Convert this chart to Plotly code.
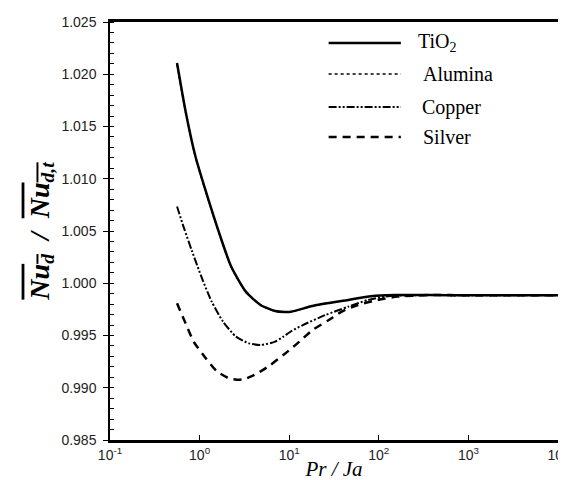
import plotly.graph_objects as go

# Pr/Ja values (x) and Nu ratio values (y)
tio2_x = [0.56, 0.698, 0.898, 1.154, 1.681, 2.25, 3.28, 4.79, 6.97, 9.0, 10.5, 19.6, 45.7, 82, 150, 370, 1000, 10000]
tio2_y = [1.02107, 1.01644, 1.01215, 1.00900, 1.00462, 1.00160, 0.99920, 0.99792, 0.99734, 0.99725, 0.99728, 0.99789, 0.99840, 0.99876, 0.99888, 0.99887, 0.99885, 0.99885]

alumina_x = [0.56, 0.698, 0.898, 1.154, 1.681, 2.25, 3.28, 4.79, 6.97, 9.0, 10.5, 19.6, 45.7, 82, 150, 370, 1000, 10000]
alumina_y = [1.02095, 1.01636, 1.01208, 1.00894, 1.00457, 1.00156, 0.99917, 0.99790, 0.99732, 0.99724, 0.99727, 0.99788, 0.99840, 0.99876, 0.99888, 0.99887, 0.99885, 0.99885]

copper_x = [0.56, 0.670, 0.826, 1.062, 1.365, 1.825, 2.55, 3.56, 4.79, 6.97, 8.6, 10.6, 14.2, 25.4, 45.7, 75.5, 135, 370, 1000, 10000]
copper_y = [1.00734, 1.00527, 1.00303, 1.00048, 0.99824, 0.99633, 0.99489, 0.99425, 0.99409, 0.99441, 0.99489, 0.99543, 0.99600, 0.99696, 0.99776, 0.99840, 0.99878, 0.99887, 0.99885, 0.99885]

silver_x = [0.56, 0.698, 0.860, 1.154, 1.547, 2.07, 2.6, 3.15, 4.40, 6.15, 8.59, 10.6, 13.0, 18.2, 27.7, 38.6, 58.7, 97, 160, 370, 1000, 10000]
silver_y = [0.99808, 0.99616, 0.99441, 0.99290, 0.99160, 0.99095, 0.99077, 0.99082, 0.99137, 0.99217, 0.99313, 0.99377, 0.99441, 0.99552, 0.99648, 0.99729, 0.99792, 0.99840, 0.99872, 0.99887, 0.99885, 0.99885]

series_names = ["TiO<sub>2</sub>", "Alumina", "Copper", "Silver"]

x_tickvals = [0.1, 1, 10, 100, 1000, 10000]
x_ticktext = ["10<sup>-1</sup>", "10<sup>0</sup>", "10<sup>1</sup>", "10<sup>2</sup>", "10<sup>3</sup>", "10<sup>4</sup>"]

SERIF = "Liberation Serif"
SANS = "Liberation Sans"

styles = [
    dict(color="black", width=2.5, dash="solid"),
    dict(color="black", width=1.5, dash="dot"),
    dict(color="black", width=2.0, dash="8px,2px,2px,2px,2px,2px"),
    dict(color="black", width=2.5, dash="8px,6px"),
]

fig = go.Figure()
for (xs, ys), name, st in zip(
    [(tio2_x, tio2_y), (alumina_x, alumina_y), (copper_x, copper_y), (silver_x, silver_y)],
    series_names, styles):
    fig.add_trace(go.Scatter(x=xs, y=ys, mode="lines", name=name,
                             line=dict(shape="spline", smoothing=0.6, **st),
                             showlegend=False))

# Manual legend (line samples + labels) in paper coordinates
W, H = 566, 480
L, R, T, B = 102, 5, 14, 48
pw, ph = W - L - R, H - T - B
def px2paper(x, y):
    return (x - L) / pw, (H - B - y) / ph

legend_rows_y = [35, 66, 99, 129]
text_x = [416, 421, 420, 421]
for i, (yy, name, st) in enumerate(zip(legend_rows_y, series_names, styles)):
    x0, y0 = px2paper(326, yy)
    x1, _ = px2paper(400, yy)
    fig.add_shape(type="line", xref="paper", yref="paper", x0=x0, x1=x1, y0=y0, y1=y0,
                  line=dict(color=st["color"], width=st["width"], dash=st["dash"]))
    tx, ty = px2paper(text_x[i], yy)
    fig.add_annotation(xref="paper", yref="paper", x=tx, y=ty, text=name, showarrow=False,
                       xanchor="left", yanchor="middle",
                       font=dict(family=SERIF, size=20, color="black"))

fig.update_layout(
    width=W, height=H,
    margin=dict(l=L, r=R, t=T, b=B),
    paper_bgcolor="white", plot_bgcolor="white",
    font=dict(family=SANS),
    xaxis=dict(type="log", range=[-1, 4], tickvals=x_tickvals, ticktext=x_ticktext,
               ticklabeloverflow="allow",
               showgrid=False, zeroline=False,
               showline=True, linecolor="black", linewidth=2.5, mirror=True,
               ticks="inside", ticklen=5, tickcolor="black",
               tickfont=dict(family=SANS, size=14, color="#222"),
               title=dict(text="<i>Pr / Ja</i>", standoff=0,
                          font=dict(family=SERIF, size=21, color="black"))),
    yaxis=dict(range=[0.985, 1.025], dtick=0.005, tickformat=".3f",
               showgrid=False, zeroline=False,
               showline=True, linecolor="black", linewidth=1.5, mirror=True,
               ticks="outside", ticklen=5, tickcolor="black", ticklabelstandoff=4,
               minor=dict(dtick=0.001, ticks="inside", ticklen=4, tickcolor="black"),
               tickfont=dict(family=SANS, size=14, color="#222"),
               title=dict(text='<b><i><span style="text-decoration:overline">Nu<sub>d</sub></span>  /  <span style="text-decoration:overline">Nu<sub>d,t</sub></span></i></b>',
                          standoff=4,
                          font=dict(family=SERIF, size=28, color="black"))),
)

fig.write_html("out.html")
